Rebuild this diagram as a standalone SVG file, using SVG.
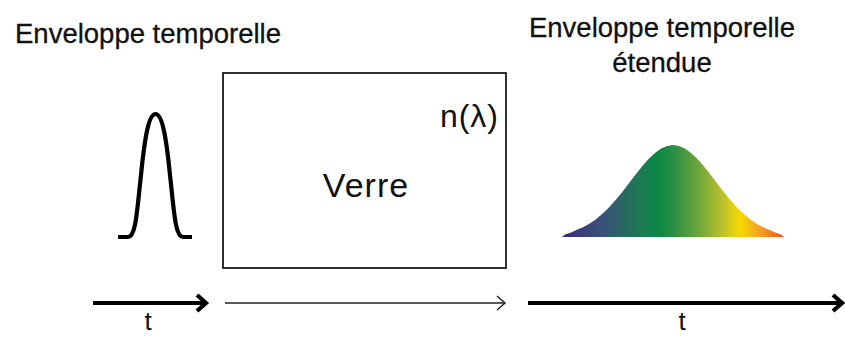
<svg xmlns="http://www.w3.org/2000/svg" width="845" height="344" viewBox="0 0 845 344">
<style>
.title{font-family:"Liberation Sans",Arial,sans-serif;font-size:27.5px;fill:#111;stroke:#111;stroke-width:0.3}
.lbl{font-family:"Liberation Sans",Arial,sans-serif;fill:#111}
.thick{stroke:#000;stroke-width:4.2;fill:none}
.thin{stroke:#222;stroke-width:1.5;fill:none}
</style>
<defs>
<linearGradient id="spec" gradientUnits="userSpaceOnUse" x1="565" y1="0" x2="784" y2="0">
<stop offset="0" stop-color="#3a2c7c"/>
<stop offset="0.16" stop-color="#3a4f7a"/>
<stop offset="0.33" stop-color="#1f7656"/>
<stop offset="0.43" stop-color="#0a8a45"/>
<stop offset="0.5" stop-color="#2b8f42"/>
<stop offset="0.62" stop-color="#74a83a"/>
<stop offset="0.72" stop-color="#bcc12c"/>
<stop offset="0.8" stop-color="#f7d800"/>
<stop offset="0.88" stop-color="#f5a623"/>
<stop offset="1" stop-color="#ec5422"/>
</linearGradient>
</defs>
<rect width="845" height="344" fill="#fff"/>
<g id="title-left"><text class="title" x="15" y="43">Enveloppe temporelle</text></g>
<g id="title-right"><text class="title" x="662" y="37" text-anchor="middle">Enveloppe temporelle</text><text class="title" x="662" y="72" text-anchor="middle">étendue</text></g>
<g id="pulse"><path class="thick" stroke-linejoin="round" d="M118,237 L128,237 C136,237 137,210 141,175 C145,135 149,114 155.5,114 C162,114 166,135 170,175 C174,210 175,237 183,237 L192,237"/></g>
<g id="glass">
<rect x="223" y="73" width="283" height="195" fill="none" stroke="#1a1a1a" stroke-width="1.8"/>
<text class="lbl" x="366" y="197" font-size="34" text-anchor="middle" letter-spacing="1">Verre</text>
<text class="lbl" x="499" y="127" font-size="32" text-anchor="end" letter-spacing="1">n(λ)</text>
</g>
<g id="spread"><path fill="url(#spec)" d="M562,237 L565,234.5 571,232.5 577,229.8 583,227.2 589,224.0 595,219.9 601,215.1 607,209.5 613,203.0 619,196.0 625,188.4 631,180.5 637,172.7 643,165.3 649,158.6 655,152.9 661,148.6 667,145.9 673,145 679,145.9 685,148.6 691,152.9 697,158.6 703,165.3 709,172.7 715,180.5 721,188.4 727,196.0 733,203.0 739,209.5 745,215.1 751,219.9 757,224.0 763,227.2 769,229.8 775,232.5 781,234.5 784,237 Z"/></g>
<g id="connectors">
<line class="thick" x1="93" y1="303" x2="205" y2="303"/>
<polyline class="thick" points="197,295 206,303 197,311" stroke-linejoin="miter"/>
<line class="thin" x1="225" y1="303" x2="504" y2="303"/>
<polyline class="thin" points="497,296 505,303 497,310"/>
<line class="thick" x1="528" y1="303" x2="841" y2="303"/>
<polyline class="thick" points="833,295 842,303 833,311"/>
</g>
<g id="axis-labels">
<text class="lbl" x="148" y="330" font-size="26" text-anchor="middle">t</text>
<text class="lbl" x="682" y="330" font-size="26" text-anchor="middle">t</text>
</g>
</svg>
